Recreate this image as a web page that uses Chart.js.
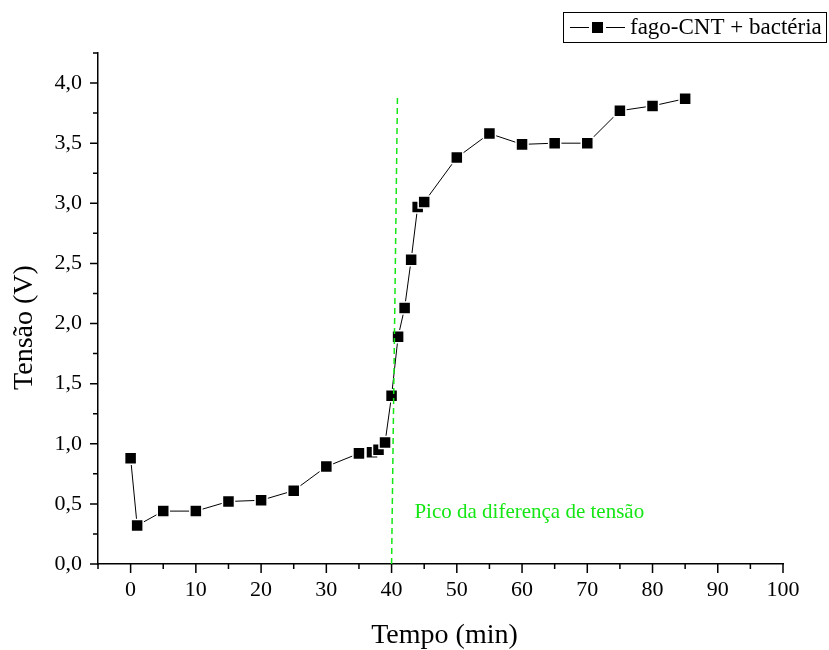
<!DOCTYPE html>
<html>
<head>
<meta charset="utf-8">
<script src="https://cdn.jsdelivr.net/npm/chart.js@4.4.0/dist/chart.umd.min.js"></script>
<style>
  body { margin: 0; background: #fff; }
  #caixa { width: 829px; height: 650px; }
</style>
</head>
<body>
<div id="caixa"><canvas id="grafico" width="829" height="650"></canvas></div>
<script>
// dados
const tempos = [0, 1, 5, 10, 15, 20, 25, 30, 35, 37, 38, 39, 40, 41, 42, 43, 44, 45, 50, 55, 60, 65, 70, 75, 80, 85];
const tensoes = [0.88, 0.32, 0.44, 0.44, 0.52, 0.53, 0.61, 0.81, 0.92, 0.93, 0.95, 1.01, 1.40, 1.89, 2.13, 2.53, 2.97, 3.01, 3.38, 3.58, 3.49, 3.50, 3.50, 3.77, 3.81, 3.87];

// linha tracejada verde (pico)
const picoX = [40, 40.9];
const picoY = [0, 3.88];

// rótulos dos eixos
const ticksX = [0, 10, 20, 30, 40, 50, 60, 70, 80, 90, 100];
const ticksY = [0, 0.5, 1.0, 1.5, 2.0, 2.5, 3.0, 3.5, 4.0];

const serif = '"Liberation Serif", "Times New Roman", serif';
const verde = 'rgb(20, 230, 20)';

// marcas dos eixos, títulos, texto do pico e legenda
const extras = {
  id: 'extras',
  afterDraw(chart) {
    const ctx = chart.ctx;
    const sx = chart.scales.x, sy = chart.scales.y;
    const a = chart.chartArea;
    ctx.save();
    ctx.strokeStyle = '#000';
    ctx.lineWidth = 1.5;
    ctx.beginPath();
    for (let v = -5; v <= 100; v += 5) {
      const px = sx.getPixelForValue(v);
      const len = v % 10 === 0 ? 9 : 5;
      ctx.moveTo(px, a.bottom);
      ctx.lineTo(px, a.bottom + len);
    }
    for (let i = 0; i <= 17; i++) {
      const py = sy.getPixelForValue(i * 0.25);
      const len = i % 2 === 0 ? 8 : 5;
      ctx.moveTo(a.left, py);
      ctx.lineTo(a.left - len, py);
    }
    ctx.stroke();

    // títulos dos eixos
    ctx.fillStyle = '#000';
    ctx.font = '28px ' + serif;
    ctx.textAlign = 'center';
    ctx.textBaseline = 'middle';
    ctx.fillText('Tempo (min)', (a.left + a.right) / 2 + 4, 636);
    ctx.save();
    ctx.translate(25, (a.top + a.bottom) / 2 + 19);
    ctx.rotate(-Math.PI / 2);
    ctx.fillText('Tensão (V)', 0, 0);
    ctx.restore();

    // texto do pico
    ctx.fillStyle = verde;
    ctx.font = '21px ' + serif;
    ctx.textAlign = 'left';
    ctx.fillText('Pico da diferença de tensão', sx.getPixelForValue(43.5), sy.getPixelForValue(0.425));

    // legenda
    ctx.lineWidth = 1;
    ctx.strokeStyle = '#000';
    ctx.strokeRect(563.5, 12.5, 263, 30);
    ctx.beginPath();
    ctx.moveTo(570, 27.5);
    ctx.lineTo(589, 27.5);
    ctx.moveTo(606, 27.5);
    ctx.lineTo(625, 27.5);
    ctx.stroke();
    ctx.fillStyle = '#000';
    ctx.fillRect(592, 22, 11, 11);
    ctx.font = '23px ' + serif;
    ctx.fillText('fago-CNT + bactéria', 630, 28);
    ctx.restore();
  }
};

new Chart(document.getElementById('grafico'), {
  type: 'scatter',
  data: {
    datasets: [
      {
        label: 'pico',
        data: picoX.map((x, i) => ({ x: x, y: picoY[i] })),
        showLine: true,
        borderColor: verde,
        borderWidth: 1.5,
        borderDash: [6, 4],
        pointRadius: 0,
        order: 0
      },
      {
        label: 'fago-CNT + bactéria',
        data: tempos.map((t, i) => ({ x: t, y: tensoes[i] })),
        showLine: true,
        borderColor: '#000',
        borderWidth: 1,
        backgroundColor: '#000',
        pointStyle: 'rect',
        pointRadius: 8.5,
        pointBorderWidth: 1.5,
        pointBorderColor: '#fff',
        order: 1
      }
    ]
  },
  options: {
    responsive: false,
    animation: false,
    clip: false,
    layout: { padding: { left: 0, right: 46, top: 53, bottom: 0 } },
    plugins: { legend: { display: false }, tooltip: { enabled: false } },
    scales: {
      x: {
        type: 'linear',
        min: -5,
        max: 100,
        grid: { display: false, drawTicks: false },
        border: { display: true, color: '#000', width: 1.5 },
        afterBuildTicks: (s) => { s.ticks = ticksX.map(v => ({ value: v })); },
        afterFit: (s) => { s.height = 86; },
        ticks: {
          color: '#000',
          font: { family: serif, size: 22 },
          padding: 13,
          maxRotation: 0,
          autoSkip: false,
          callback: (v) => String(v)
        }
      },
      y: {
        type: 'linear',
        min: 0,
        max: 4.25,
        grid: { display: false, drawTicks: false },
        border: { display: true, color: '#000', width: 1.5 },
        afterBuildTicks: (s) => { s.ticks = ticksY.map(v => ({ value: v })); },
        afterFit: (s) => { s.width = 98; },
        ticks: {
          color: '#000',
          font: { family: serif, size: 22 },
          padding: 16,
          autoSkip: false,
          callback: (v) => v.toFixed(1).replace('.', ',')
        }
      }
    }
  },
  plugins: [extras]
});
</script>
</body>
</html>
